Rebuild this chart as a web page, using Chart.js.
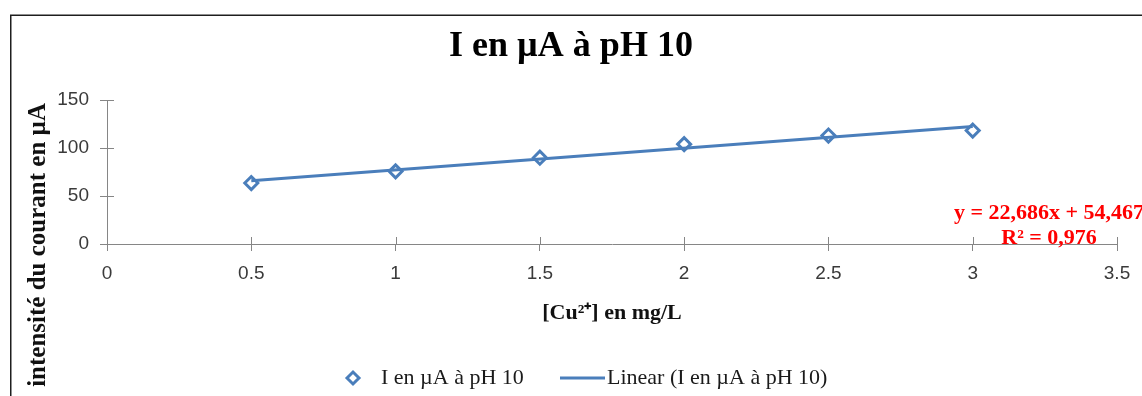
<!DOCTYPE html>
<html><head><meta charset="utf-8">
<script src="https://cdn.jsdelivr.net/npm/chart.js@4.4.1/dist/chart.umd.min.js"></script>
<style>html,body{margin:0;padding:0;background:#fff;overflow:hidden}canvas{display:block}</style>
</head><body>
<canvas id="c" width="1142" height="396"></canvas>
<script>
// ---- data ----
const chartTitle = 'I en µA à pH 10';
const seriesLabel = 'I en µA à pH 10';
const trendLabel = 'Linear (I en µA à pH 10)';
const xAxisTitle = '[Cu²⁺] en mg/L';
const yAxisTitle = 'intensité du courant en µA';
const concentrations = [0.5, 1, 1.5, 2, 2.5, 3];
const currents = [63.5, 75.7, 89.9, 104, 113, 118.2];
const trendX = [0.5, 3];
const trendY = [65.8, 122.5];
const xTicks = [0, 0.5, 1, 1.5, 2, 2.5, 3, 3.5];
const yTicks = [0, 50, 100, 150];
const equationLines = ['y = 22,686x + 54,467', 'R² = 0,976'];

const BLUE = '#4a7ebb';
const AXIS = '#868686';
const TICK_LEN = 7;

const framePlugin = {
  id: 'frame',
  beforeDraw(chart) {
    const ctx = chart.ctx;
    ctx.save();
    ctx.fillStyle = '#fff';
    ctx.fillRect(0, 0, chart.width, chart.height);
    ctx.strokeStyle = '#1e1e1e';
    ctx.lineWidth = 1.5;
    ctx.beginPath();
    ctx.moveTo(10.75, chart.height + 5);
    ctx.lineTo(10.75, 15.25);
    ctx.lineTo(chart.width + 5, 15.25);
    ctx.stroke();
    ctx.restore();
  }
};

const innerTicksPlugin = {
  id: 'innerTicks',
  afterDraw(chart) {
    const ctx = chart.ctx;
    const xs = chart.scales.x, ys = chart.scales.y;
    const a = chart.chartArea;
    ctx.save();
    ctx.strokeStyle = AXIS;
    ctx.lineWidth = 1;
    ctx.beginPath();
    xs.ticks.forEach(t => {
      const px = Math.round(xs.getPixelForValue(t.value)) + 0.5;
      ctx.moveTo(px, a.bottom);
      ctx.lineTo(px, a.bottom - TICK_LEN);
    });
    ys.ticks.forEach(t => {
      const py = Math.round(ys.getPixelForValue(t.value)) + 0.5;
      ctx.moveTo(a.left, py);
      ctx.lineTo(a.left + TICK_LEN, py);
    });
    ctx.stroke();
    ctx.restore();
  }
};

const textPlugin = {
  id: 'extraText',
  afterDraw(chart) {
    const ctx = chart.ctx;
    ctx.save();
    // y axis title
    ctx.translate(39, 103);
    ctx.rotate(-Math.PI / 2);
    ctx.font = 'bold 25px "Liberation Serif"';
    ctx.fillStyle = '#111';
    ctx.textAlign = 'right';
    ctx.textBaseline = 'middle';
    ctx.fillText(yAxisTitle, 0, 0);
    ctx.restore();

    // trendline equation
    ctx.save();
    ctx.font = 'bold 22px "Liberation Serif"';
    ctx.fillStyle = '#ff0000';
    ctx.textAlign = 'center';
    ctx.textBaseline = 'middle';
    ctx.fillText(equationLines[0], 1049, 213);
    ctx.fillText(equationLines[1], 1049, 238);
    ctx.restore();

    // legend
    const ds = chart.data.datasets;
    const ly = 378;
    ctx.save();
    ctx.font = '22px "Liberation Serif"';
    ctx.fillStyle = '#1a1a1a';
    ctx.textAlign = 'left';
    ctx.textBaseline = 'middle';
    const r = ds[0].pointRadius - 0.5;
    ctx.strokeStyle = ds[0].borderColor;
    ctx.lineWidth = ds[0].pointBorderWidth;
    ctx.beginPath();
    ctx.moveTo(353 - r, ly);
    ctx.lineTo(353, ly - r);
    ctx.lineTo(353 + r, ly);
    ctx.lineTo(353, ly + r);
    ctx.closePath();
    ctx.stroke();
    ctx.fillText(ds[0].label, 381, ly);
    ctx.strokeStyle = ds[1].borderColor;
    ctx.lineWidth = ds[1].borderWidth;
    ctx.beginPath();
    ctx.moveTo(560, ly);
    ctx.lineTo(605, ly);
    ctx.stroke();
    ctx.fillText(ds[1].label, 607, ly);
    ctx.restore();
  }
};

new Chart(document.getElementById('c'), {
  type: 'scatter',
  data: {
    datasets: [
      {
        label: seriesLabel,
        data: concentrations.map((x, i) => ({x, y: currents[i]})),
        showLine: false,
        pointStyle: 'rectRot',
        pointRadius: 6.5,
        pointBorderWidth: 3,
        borderColor: BLUE,
        backgroundColor: 'rgba(0,0,0,0)',
        pointBackgroundColor: 'rgba(0,0,0,0)',
        order: 2
      },
      {
        label: trendLabel,
        data: trendX.map((x, i) => ({x, y: trendY[i]})),
        showLine: true,
        pointRadius: 0,
        borderColor: BLUE,
        borderWidth: 3,
        backgroundColor: BLUE,
        order: 1
      }
    ]
  },
  options: {
    responsive: false,
    animation: false,
    devicePixelRatio: 1,
    layout: { padding: { left: 0, right: 0, top: 0, bottom: 60 } },
    plugins: {
      legend: { display: false },
      tooltip: { enabled: false },
      title: {
        display: true,
        text: chartTitle,
        color: '#000',
        font: { family: 'Liberation Serif', size: 36, weight: 'bold' },
        padding: { top: 25, bottom: 31.8 }
      }
    },
    scales: {
      x: {
        type: 'linear',
        min: 0, max: 3.5,
        afterBuildTicks: s => { s.ticks = xTicks.map(v => ({value: v})); },
        afterFit: s => { s.height = 92; s.paddingRight = 25; },
        ticks: {
          color: '#3a3a3a',
          font: { family: 'Liberation Sans', size: 19 },
          padding: 11,
          maxRotation: 0,
          autoSkip: false,
          callback: v => String(v)
        },
        grid: { display: true, drawOnChartArea: false, drawTicks: true, tickLength: TICK_LEN, color: AXIS, lineWidth: 1 },
        border: { display: true, color: AXIS, width: 1 },
        title: {
          display: true,
          text: xAxisTitle,
          color: '#111',
          font: { family: 'Liberation Serif', size: 22, weight: 'bold' },
          padding: { top: 0, bottom: 9 }
        }
      },
      y: {
        type: 'linear',
        min: 0, max: 150,
        afterBuildTicks: s => { s.ticks = yTicks.map(v => ({value: v})); },
        afterFit: s => { s.width = 107; },
        ticks: {
          color: '#3a3a3a',
          font: { family: 'Liberation Sans', size: 19 },
          padding: 11,
          autoSkip: false
        },
        grid: { display: true, drawOnChartArea: false, drawTicks: true, tickLength: TICK_LEN, color: AXIS, lineWidth: 1 },
        border: { display: true, color: AXIS, width: 1 },
        title: { display: false }
      }
    }
  },
  plugins: [framePlugin, innerTicksPlugin, textPlugin]
});
</script>
</body></html>
